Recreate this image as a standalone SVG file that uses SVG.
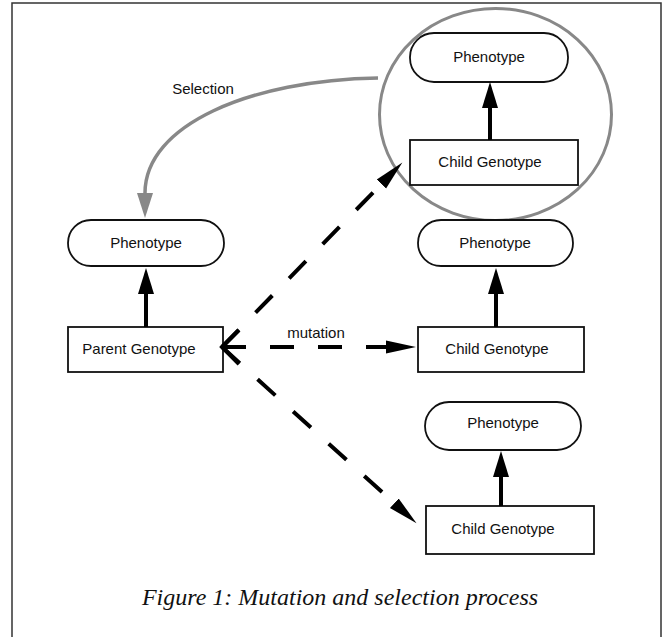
<svg xmlns="http://www.w3.org/2000/svg" width="672" height="637" viewBox="0 0 672 637">
<style>
  .node { fill: #fff; stroke: #111; stroke-width: 1.8; }
  .lbl { font-family: "Liberation Sans", Arial, sans-serif; font-size: 15px; fill: #111; text-anchor: middle; }
  .solid { stroke: #000; stroke-width: 4; fill: none; }
  .dash { stroke: #000; stroke-width: 4; fill: none; stroke-dasharray: 24 24; }
  .sel { stroke: #888; stroke-width: 3.5; fill: none; }
</style>
<defs>
  <marker id="ah" markerUnits="userSpaceOnUse" markerWidth="30" markerHeight="20" viewBox="0 -10 30 20" refX="0" refY="0" orient="auto">
    <path d="M0,-8 L26,0 L0,8 z" fill="#000"/>
  </marker>
  <marker id="ahd" markerUnits="userSpaceOnUse" markerWidth="32" markerHeight="16" viewBox="0 -8 32 16" refX="0" refY="0" orient="auto">
    <path d="M0,-6.5 L30,0 L0,6.5 z" fill="#000"/>
  </marker>
  <marker id="ahg" markerUnits="userSpaceOnUse" markerWidth="30" markerHeight="20" viewBox="0 -10 30 20" refX="0" refY="0" orient="auto">
    <path d="M0,-8 L25,0 L0,8 z" fill="#888"/>
  </marker>
</defs>
<rect width="672" height="637" fill="#fff"/>
<path d="M12,637 V3 H661 V637" fill="none" stroke="#333" stroke-width="1.5"/>

<g id="selection-circle">
  <ellipse cx="495.5" cy="114.5" rx="116" ry="106" fill="none" stroke="#888" stroke-width="3"/>
</g>

<g id="parent-phenotype">
  <rect class="node" x="68" y="220" width="156" height="46" rx="23" ry="23"/>
  <text class="lbl" x="146" y="248">Phenotype</text>
</g>
<g id="parent-genotype">
  <rect class="node" x="68" y="327" width="155" height="45"/>
  <text class="lbl" x="139" y="354">Parent Genotype</text>
</g>

<g id="child1-phenotype">
  <rect class="node" x="410" y="33" width="158" height="49" rx="24" ry="24"/>
  <text class="lbl" x="489" y="62">Phenotype</text>
</g>
<g id="child1-genotype">
  <rect class="node" x="410" y="140" width="168" height="45"/>
  <text class="lbl" x="490" y="167">Child Genotype</text>
</g>

<g id="child2-phenotype">
  <rect class="node" x="418" y="220" width="155" height="46" rx="23" ry="23"/>
  <text class="lbl" x="495" y="248">Phenotype</text>
</g>
<g id="child2-genotype">
  <rect class="node" x="418" y="327" width="166" height="45"/>
  <text class="lbl" x="497" y="354">Child Genotype</text>
</g>

<g id="child3-phenotype">
  <rect class="node" x="425" y="402" width="156" height="48" rx="24" ry="24"/>
  <text class="lbl" x="503" y="428">Phenotype</text>
</g>
<g id="child3-genotype">
  <rect class="node" x="426" y="506" width="168" height="48"/>
  <text class="lbl" x="503" y="534">Child Genotype</text>
</g>

<g id="connectors">
  <line class="solid" x1="146" y1="327" x2="146" y2="294" marker-end="url(#ah)"/>
  <line class="solid" x1="490" y1="140" x2="490" y2="108" marker-end="url(#ah)"/>
  <line class="solid" x1="496" y1="327" x2="496" y2="294" marker-end="url(#ah)"/>
  <line class="solid" x1="501" y1="506" x2="501" y2="477" marker-end="url(#ah)"/>

  <path class="dash" d="M222,347 H386" marker-end="url(#ahd)"/>
  <path class="dash" d="M222,347 L381.4,184" marker-end="url(#ahd)"/>
  <path class="dash" d="M222,347 L394.3,503.2" marker-end="url(#ahd)"/>
  <path d="M239,330 L222,347 L239,364" fill="none" stroke="#000" stroke-width="4"/>

  <path class="sel" d="M378,78 C250,80 145,125 145,193" marker-end="url(#ahg)"/>

  <text class="lbl" x="316" y="338">mutation</text>
  <text class="lbl" x="203" y="94">Selection</text>
</g>

<text x="340" y="605" font-family="'Liberation Serif', 'Times New Roman', serif" font-style="italic" font-size="24" fill="#111" text-anchor="middle">Figure 1: Mutation and selection process</text>
</svg>
